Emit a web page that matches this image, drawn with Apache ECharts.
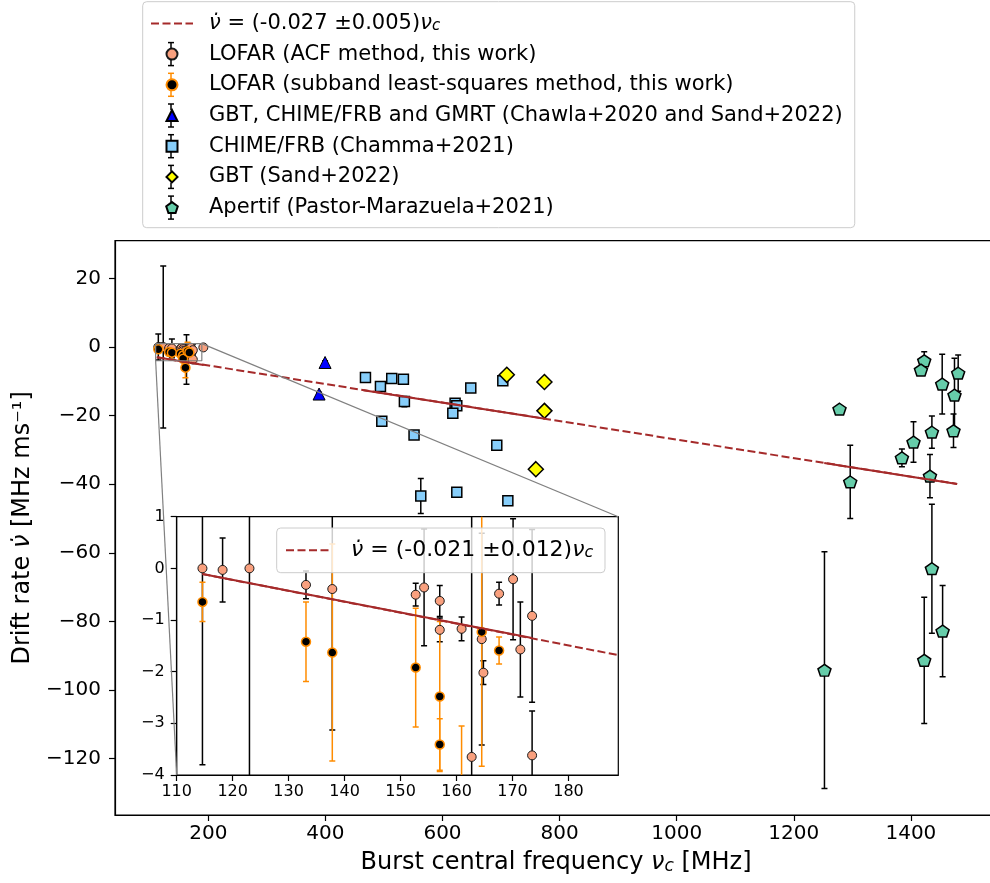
<!DOCTYPE html>
<html>
<head>
<meta charset="utf-8">
<title>FRB drift rate vs central frequency</title>
<script src="https://cdn.jsdelivr.net/npm/echarts@6/dist/echarts.min.js"></script>
<style>
  html, body { margin: 0; padding: 0; background: #fff; }
  #chart { width: 990px; height: 883px; }
</style>
</head>
<body>
<div id="chart"></div>
<script>
// axis ranges and ticks
const mainFreqRange = [40.6, 1567.6]
const mainDriftRange = [-136.4, 31.0]
const insetFreqRange = [110, 188.9]
const insetDriftRange = [-4, 1]
const mainXTicks = [200, 400, 600, 800, 1000, 1200, 1400]
const mainYTicks = [20, 0, -20, -40, -60, -80, -100, -120]
const insetXTicks = [110, 120, 130, 140, 150, 160, 170, 180]
const insetYTicks = [1, 0, -1, -2, -3, -4]

// LOFAR, ACF method
const acfFreq = [114.6, 118.2, 123.0, 133.1, 137.8, 152.7, 154.2, 157.0, 157.0, 160.9, 162.7, 164.5, 164.8, 167.6, 170.1, 171.4, 173.5, 173.5, 191.5]
const acfDrift = [0.0, -0.03, 0.0, -0.32, -0.40, -0.51, -0.37, -0.63, -1.19, -1.17, -3.65, -1.37, -2.02, -0.49, -0.21, -1.57, -0.92, -3.62, -0.1]
const acfErr = [3.8, 0.62, 23.6, 0.27, 2.73, 0.22, 1.13, 0.30, 0.23, 0.23, 7.2, 2.05, 0.23, 0.22, 1.17, 0.92, 1.67, 0.86, 0.4]

// LOFAR, subband least-squares method
const subFreq = [114.6, 133.1, 137.8, 152.7, 157.0, 157.0, 160.9, 164.5, 167.6]
const subDrift = [-0.65, -1.42, -1.63, -1.92, -2.48, -3.41, -6.0, -1.23, -1.59]
const subErr = [0.38, 0.77, 2.1, 1.15, 1.45, 0.5, 2.95, 2.6, 0.26]

// GBT, CHIME/FRB and GMRT
const gbtFreq = [389.2, 399.4]
const gbtDrift = [-13.7, -4.5]
const gbtErr = [0.5, 0.5]

// CHIME/FRB (Chamma+2021)
const chimeFreq = [468.4, 494.0, 513.3, 533.2, 534.9, 496.3, 551.4, 648.3, 621.5, 624.4, 617.6, 703.0, 692.7, 562.9, 624.4, 711.6]
const chimeDrift = [-8.9, -11.5, -9.2, -9.4, -15.9, -21.6, -25.6, -11.9, -16.4, -17.1, -19.3, -9.8, -28.6, -43.4, -42.3, -44.8]
const chimeErr = [0.8, 0.8, 0.8, 0.8, 1.5, 1.0, 0.8, 0.8, 0.8, 0.8, 0.8, 0.8, 0.8, 5.1, 1.3, 0.8]

// GBT (Sand+2022)
const sandFreq = [709.8, 774.1, 774.1, 759.4]
const sandDrift = [-8.1, -10.2, -18.6, -35.6]
const sandErr = [0.6, 0.6, 0.6, 0.6]

// Apertif (Pastor-Marazuela+2021)
const apFreq = [1278.1, 1296.4, 1252.4, 1422.8, 1417.2, 1453.5, 1480.8, 1474.5, 1472.8, 1435.9, 1404.5, 1384.7, 1432.6, 1435.9, 1454.2, 1422.8]
const apDrift = [-18.1, -39.3, -94.2, -4.0, -6.7, -10.8, -7.6, -14.0, -24.4, -24.8, -27.7, -32.3, -37.6, -64.6, -82.8, -91.3]
const apErr = [0.6, 10.7, 34.5, 2.6, 0.8, 8.7, 5.3, 10.7, 4.9, 4.7, 5.9, 2.6, 6.3, 18.8, 13.3, 18.4]

// fitted lines (end points)
const fitFreq = [112, 1479]
const fitDrift = [-3.0, -39.9]
const fitSegFreq = [[112, 192], [465, 775], [1252, 1479]]
const fitSegDrift = [[-3.0, -5.2], [-12.6, -20.9], [-33.8, -39.9]]
const insetFitFreq = [114.6, 188.9]
const insetFitDrift = [-0.11, -1.68]
const insetSegFreq = [114.6, 173.5]
const insetSegDrift = [-0.11, -1.35]

const FONT = 'DejaVu Sans'
const FIT_MAIN = 'fit (all)'
const FIT_INSET = 'fit (LOFAR)'
const ACF = 'LOFAR (ACF method, this work)'
const SUB = 'LOFAR (subband least-squares method, this work)'
const GBT = 'GBT, CHIME/FRB and GMRT (Chawla+2020 and Sand+2022)'
const CHIME = 'CHIME/FRB (Chamma+2021)'
const SAND = 'GBT (Sand+2022)'
const APERTIF = 'Apertif (Pastor-Marazuela+2021)'
const PENTAGON = 'path://M0,-1L0.951,-0.309L0.588,0.809L-0.588,0.809L-0.951,-0.309Z'
const TRIANGLE = 'path://M0,-1L1,1L-1,1Z'
const SQUARE = 'path://M-1,-1L1,-1L1,1L-1,1Z'
const DIAMOND = 'path://M0,-1L1,0L0,1L-1,0Z'
const NU_DOT = 'ν\u0307'

const minus = v => String(v).replace('-', '\u2212')
const pts = (xs, ys) => xs.map((x, i) => [x, ys[i]])
const errPts = (xs, ys, es) => xs.map((x, i) => [x, ys[i], es[i]])

function richFor(size, subSize, subLH) {
  return {
    i: { fontFamily: FONT, fontStyle: 'italic', fontSize: size, lineHeight: size, color: '#000' },
    sub: { fontFamily: FONT, fontStyle: 'italic', fontSize: subSize, lineHeight: subLH, verticalAlign: 'bottom', color: '#000' }
  }
}

function errorBars(color) {
  return function (params, api) {
    const x = api.value(0)
    const y = api.value(1)
    const e = api.value(2)
    const lo = api.coord([x, y - e])
    const hi = api.coord([x, y + e])
    const style = { stroke: color, lineWidth: 1.5 }
    return {
      type: 'group',
      children: [
        { type: 'line', shape: { x1: lo[0], y1: lo[1], x2: hi[0], y2: hi[1] }, style: style },
        { type: 'line', shape: { x1: lo[0] - 3, y1: lo[1], x2: lo[0] + 3, y2: lo[1] }, style: style },
        { type: 'line', shape: { x1: hi[0] - 3, y1: hi[1], x2: hi[0] + 3, y2: hi[1] }, style: style }
      ]
    }
  }
}

function errSeries(grid, xs, ys, es, color) {
  return {
    type: 'custom', xAxisIndex: grid, yAxisIndex: grid, clip: true, silent: true,
    renderItem: errorBars(color), encode: { x: 0, y: 1 }, data: errPts(xs, ys, es)
  }
}

function markSeries(grid, name, xs, ys, symbol, size, fill, edge, edgeW) {
  return {
    type: 'scatter', name: name, xAxisIndex: grid, yAxisIndex: grid, silent: true,
    symbol: symbol, symbolSize: size, symbolKeepAspect: true,
    itemStyle: { color: fill, borderColor: edge, borderWidth: edgeW, opacity: 1 },
    emphasis: { disabled: true }, data: pts(xs, ys)
  }
}

function lineSeries(grid, name, xs, ys, color, width, type, id) {
  return {
    type: 'line', id: id, name: name, xAxisIndex: grid, yAxisIndex: grid, silent: true,
    symbol: 'none', lineStyle: { color: color, width: width, type: type },
    itemStyle: { color: color, opacity: 0 }, emphasis: { disabled: true }, data: pts(xs, ys)
  }
}

function lofarSeries(grid) {
  return [
    errSeries(grid, acfFreq, acfDrift, acfErr, '#000'),
    markSeries(grid, ACF, acfFreq, acfDrift, 'circle', 9, '#f9a07e', '#1a1a1a', 1),
    errSeries(grid, subFreq, subDrift, subErr, '#ff8c00'),
    markSeries(grid, SUB, subFreq, subDrift, 'circle', 9, '#000', '#ff8c00', 1.5)
  ]
}

function valueAxis(grid, range, ticks, fontSize, margin, extra) {
  return Object.assign({
    type: 'value', gridIndex: grid, min: range[0], max: range[1],
    axisLine: { show: true, onZero: false, lineStyle: { color: '#000', width: 1.2 } },
    splitLine: { show: false },
    axisTick: { show: true, length: 6, customValues: ticks, lineStyle: { color: '#000', width: 1.2 } },
    axisLabel: { customValues: ticks, fontFamily: FONT, fontSize: fontSize, color: '#000', margin: margin, formatter: minus }
  }, extra || {})
}

const fitSolid = fitSegFreq.map((xs, k) => lineSeries(0, 'fit-seg', xs, fitSegDrift[k], '#a52a2a', 2, 'solid'))
const rectFreq = [insetFreqRange[0], insetFreqRange[1], insetFreqRange[1], insetFreqRange[0], insetFreqRange[0]]
const rectDrift = [insetDriftRange[1], insetDriftRange[1], insetDriftRange[0], insetDriftRange[0], insetDriftRange[1]]

const series = [
  lineSeries(0, FIT_MAIN, fitFreq, fitDrift, '#a52a2a', 2, [8, 3.5]),
  ...fitSolid,
  lineSeries(0, 'zoom-box', rectFreq, rectDrift, '#808080', 1.2, 'solid'),
  lineSeries(0, 'connector', [], [], '#808080', 1.2, 'solid', 'conn1'),
  lineSeries(0, 'connector', [], [], '#808080', 1.2, 'solid', 'conn2'),
  ...lofarSeries(0),
  errSeries(0, gbtFreq, gbtDrift, gbtErr, '#000'),
  markSeries(0, GBT, gbtFreq, gbtDrift, 'triangle', 12, '#0000ff', '#000', 1),
  errSeries(0, chimeFreq, chimeDrift, chimeErr, '#000'),
  markSeries(0, CHIME, chimeFreq, chimeDrift, 'rect', 10, '#87cefa', '#000', 1.5),
  errSeries(0, sandFreq, sandDrift, sandErr, '#000'),
  markSeries(0, SAND, sandFreq, sandDrift, 'diamond', 15, '#ffff00', '#000', 1.5),
  errSeries(0, apFreq, apDrift, apErr, '#000'),
  markSeries(0, APERTIF, apFreq, apDrift, PENTAGON, [13, 12.4], '#66cdaa', '#000', 1.5),
  // inset
  lineSeries(1, FIT_INSET, insetFitFreq, insetFitDrift, '#a52a2a', 2, [8, 3.5]),
  lineSeries(1, 'fit-seg-inset', insetSegFreq, insetSegDrift, '#a52a2a', 2, 'solid'),
  ...lofarSeries(1)
]

// legend layout
const LEG = { left: 142.7, top: 1.7, padTop: 11.2, padLeft: 7.3, itemW: 42, itemH: 11, rowH: 21, gap: 9.7 }
const legendCx = LEG.left + LEG.padLeft + LEG.itemW / 2
const glyphColors = ['#000', '#ff8c00', '#000', '#000', '#000', '#000']
const glyphs = []
glyphColors.forEach((c, k) => {
  const cy = LEG.top + LEG.padTop + LEG.rowH / 2 + (k + 1) * (LEG.rowH + LEG.gap)
  const st = { stroke: c, lineWidth: 1.5 }
  const half = 11.5
  const r = LEG.itemH / 2
  glyphs.push(
    { type: 'line', z: 100, silent: true, shape: { x1: legendCx, y1: cy - half, x2: legendCx, y2: cy - r }, style: st },
    { type: 'line', z: 100, silent: true, shape: { x1: legendCx, y1: cy + r, x2: legendCx, y2: cy + half }, style: st },
    { type: 'line', z: 100, silent: true, shape: { x1: legendCx - 3, y1: cy - half, x2: legendCx + 3, y2: cy - half }, style: st },
    { type: 'line', z: 100, silent: true, shape: { x1: legendCx - 3, y1: cy + half, x2: legendCx + 3, y2: cy + half }, style: st }
  )
})

const option = {
  animation: false,
  backgroundColor: '#fff',
  textStyle: { fontFamily: FONT },
  grid: [
    { left: 115, top: 240.7, width: 894, height: 574.3, show: true, borderColor: '#000', borderWidth: 1.2,
      backgroundColor: 'transparent', containLabel: false, outerBoundsMode: 'none' },
    { left: 176.7, top: 516.7, width: 441.6, height: 258.3, show: true, borderColor: '#000', borderWidth: 1.2,
      backgroundColor: '#fff', containLabel: false, outerBoundsMode: 'none' }
  ],
  xAxis: [
    valueAxis(0, mainFreqRange, mainXTicks, 20, 9, {
      name: 'Burst central frequency {i|ν}{sub|c} [MHz]', nameLocation: 'middle', nameGap: 36,
      nameTextStyle: { fontFamily: FONT, fontSize: 24, lineHeight: 24, color: '#000', padding: [0, 12, 0, 0], rich: richFor(24, 17, 12) }
    }),
    valueAxis(1, insetFreqRange, insetXTicks, 16, 9)
  ],
  yAxis: [
    valueAxis(0, mainDriftRange, mainYTicks, 20, 14, {
      name: 'Drift rate {i|' + NU_DOT + '} [MHz ms⁻¹]', nameLocation: 'middle', nameGap: 80, nameRotate: 90,
      nameTextStyle: { fontFamily: FONT, fontSize: 24, lineHeight: 24, color: '#000', rich: richFor(24, 17, 12) }
    }),
    valueAxis(1, insetDriftRange, insetYTicks, 16, 12)
  ],
  legend: [
    {
      data: [
        { name: FIT_MAIN, itemStyle: { opacity: 0 } },
        { name: ACF },
        { name: SUB },
        { name: GBT, icon: TRIANGLE },
        { name: CHIME, icon: SQUARE },
        { name: SAND, icon: DIAMOND },
        { name: APERTIF, icon: PENTAGON }
      ],
      orient: 'vertical', left: LEG.left, top: LEG.top,
      padding: [LEG.padTop, 12, 9.6, LEG.padLeft],
      itemWidth: LEG.itemW, itemHeight: LEG.itemH, itemGap: LEG.gap,
      symbolKeepAspect: true,
      backgroundColor: 'rgba(255,255,255,0.8)', borderColor: '#cccccc', borderWidth: 1, borderRadius: 4,
      selectedMode: false,
      formatter: name => name === FIT_MAIN ? '{i|' + NU_DOT + '} = (-0.027 ±0.005){i|ν}{sub|c}' : name,
      textStyle: { fontFamily: FONT, fontSize: 21, lineHeight: 21, color: '#000', padding: [0, 0, 0, 11], rich: richFor(21, 15, 10) }
    },
    {
      data: [{ name: FIT_INSET, itemStyle: { opacity: 0 } }],
      orient: 'vertical', left: 276.7, top: 528,
      padding: [11.3, 11.7, 11.4, 8.3],
      itemWidth: 45, itemHeight: 11,
      backgroundColor: 'rgba(255,255,255,0.8)', borderColor: '#cccccc', borderWidth: 1, borderRadius: 4,
      selectedMode: false,
      formatter: () => '{i|' + NU_DOT + '} = (-0.021 ±0.012){i|ν}{sub|c}',
      textStyle: { fontFamily: FONT, fontSize: 22, lineHeight: 22, color: '#000', padding: [0, 0, 0, 15], rich: richFor(22, 16, 10) }
    }
  ],
  graphic: glyphs,
  series: series
}

const chart = echarts.init(document.getElementById('chart'))
chart.setOption(option)

// connectors from the zoom box to the inset corners
const insetTopRight = chart.convertToPixel({ gridIndex: 1 }, [insetFreqRange[1], insetDriftRange[1]])
const insetBottomLeft = chart.convertToPixel({ gridIndex: 1 }, [insetFreqRange[0], insetDriftRange[0]])
const trMain = chart.convertFromPixel({ gridIndex: 0 }, insetTopRight)
const blMain = chart.convertFromPixel({ gridIndex: 0 }, insetBottomLeft)
chart.setOption({
  series: [
    { id: 'conn1', data: [[insetFreqRange[1], insetDriftRange[1]], trMain] },
    { id: 'conn2', data: [[insetFreqRange[0], insetDriftRange[0]], blMain] }
  ]
})
</script>
</body>
</html>
